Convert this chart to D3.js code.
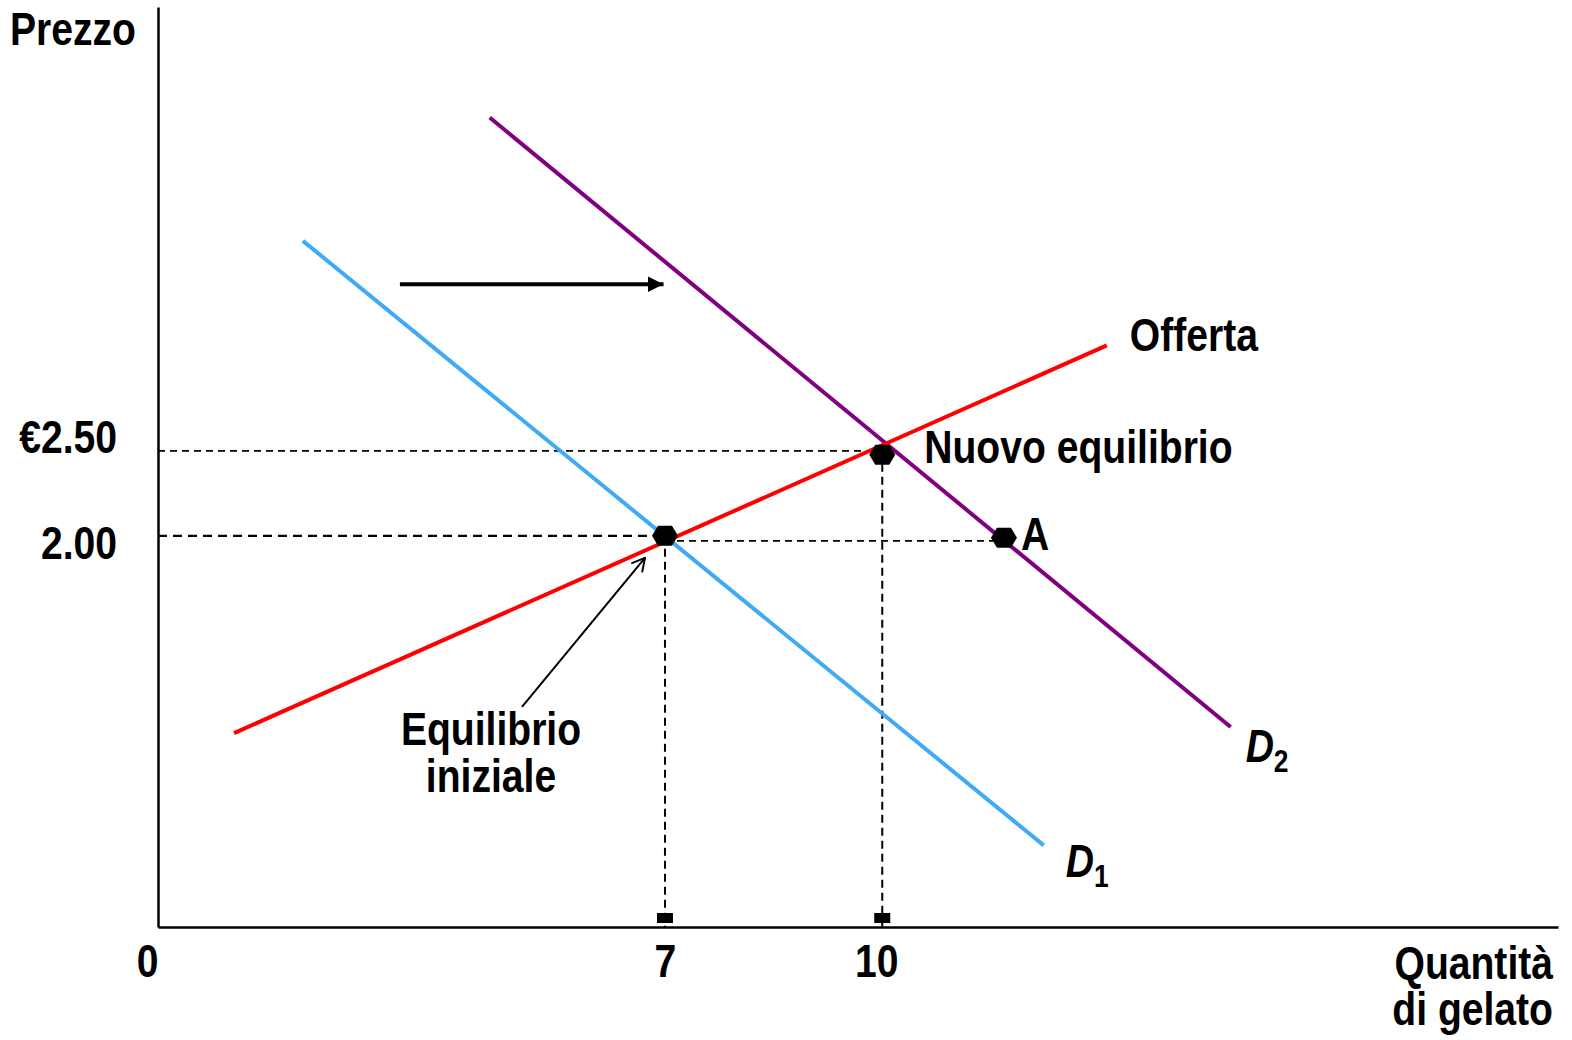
<!DOCTYPE html>
<html>
<head>
<meta charset="utf-8">
<script src="https://cdn.jsdelivr.net/npm/d3@7"></script>
<style>
  html, body { margin: 0; padding: 0; background: #fff; }
  svg { display: block; }
  text { font-family: "Liberation Sans", Arial, sans-serif; font-weight: bold; fill: #000; }
</style>
</head>
<body>
<svg id="chart" width="1572" height="1040"></svg>
<script>
// Ice-cream market: demand shifts right from D1 to D2, supply unchanged.
const quantityTicks = [0, 7, 10];
const quantityTickLabels = ["0", "7", "10"];
const priceTicks = [2.0, 2.5];
const priceTickLabels = ["2.00", "€2.50"];

const supplyLine = [{ q: 1.05, p: 0.84 }, { q: 13.1, p: 3.12 }];
const demand1Line = [{ q: 2.0, p: 3.735 }, { q: 12.23, p: 0.18 }];
const demand2Line = [{ q: 4.58, p: 4.46 }, { q: 14.81, p: 0.876 }];
const shiftArrow = [{ q: 3.34, p: 3.48 }, { q: 6.98, p: 3.48 }];

const initialEq = { q: 7, p: 2.0 };
const newEq = { q: 10, p: 2.5 };
const pointA = { q: 11.68, p: 2.0 };

const svg = d3.select("#chart");

const x = d3.scaleLinear().domain([0, 19.33]).range([158, 1558]);
const y = d3.scaleLinear().domain([-0.3, 5.11]).range([927, 7]);

const FONT = 46;
const NARROW = 0.85;   // horizontal squeeze for a narrow bold face

// place a horizontally condensed text with its anchor at (px, py)
function narrowText(parent, str, px, py, anchor = "start") {
  const g = parent.append("g").attr("transform", `translate(${px},${py}) scale(${NARROW},1)`);
  return g.append("text").attr("text-anchor", anchor).attr("font-size", FONT).text(str);
}

// defs: arrowheads
const defs = svg.append("defs");
defs.append("marker")
  .attr("id", "headFilled")
  .attr("viewBox", "0 0 16 16")
  .attr("refX", 16).attr("refY", 8)
  .attr("markerWidth", 16).attr("markerHeight", 16)
  .attr("markerUnits", "userSpaceOnUse")
  .attr("orient", "auto")
  .append("path").attr("d", "M0,0 L16,8 L0,16 Z").attr("fill", "#000");
defs.append("marker")
  .attr("id", "headOpen")
  .attr("viewBox", "0 0 16 16")
  .attr("refX", 15).attr("refY", 8)
  .attr("markerWidth", 16).attr("markerHeight", 16)
  .attr("markerUnits", "userSpaceOnUse")
  .attr("orient", "auto")
  .append("path").attr("d", "M2,1 L15,8 L2,15").attr("fill", "none")
  .attr("stroke", "#000").attr("stroke-width", 2);

// guide lines (dashed)
const guides = svg.append("g").attr("fill", "none").attr("stroke", "#000");
guides.append("line")
  .attr("x1", x(0)).attr("x2", x(newEq.q))
  .attr("y1", y(newEq.p)).attr("y2", y(newEq.p))
  .attr("stroke-width", 1.6).attr("stroke-dasharray", "7 5");
guides.append("line")
  .attr("x1", x(0)).attr("x2", x(initialEq.q))
  .attr("y1", y(initialEq.p)).attr("y2", y(initialEq.p))
  .attr("stroke-width", 2.4).attr("stroke-dasharray", "9 6");
guides.append("line")
  .attr("x1", x(initialEq.q)).attr("x2", x(pointA.q))
  .attr("y1", y(initialEq.p) + 5).attr("y2", y(pointA.p) + 5)
  .attr("stroke-width", 1.6).attr("stroke-dasharray", "7 5");
[initialEq, newEq].forEach(d => {
  guides.append("line")
    .attr("x1", x(d.q)).attr("x2", x(d.q))
    .attr("y1", y(d.p)).attr("y2", y.range()[0])
    .attr("stroke-width", 2).attr("stroke-dasharray", "8 5");
});

// axes
const xAxis = d3.axisBottom(x)
  .tickValues(quantityTicks)
  .tickFormat((d, i) => quantityTickLabels[i])
  .tickSize(0).tickSizeOuter(0);
const gx = svg.append("g").attr("transform", `translate(0,${y.range()[0]})`).call(xAxis);
gx.attr("font-family", null).attr("font-size", null);
gx.select(".domain").attr("stroke-width", 2.5).attr("stroke", "#000");
gx.selectAll("text")
  .attr("font-size", FONT).attr("dy", null).attr("y", 50)
  .attr("x", d => (d === 0 ? -11 : (d === 10 ? -6 : 0)) / NARROW)
  .attr("transform", `scale(${NARROW},1)`);

const yAxis = d3.axisLeft(y)
  .tickValues(priceTicks)
  .tickFormat((d, i) => priceTickLabels[i])
  .tickSize(0).tickSizeOuter(0);
const gy = svg.append("g").attr("transform", `translate(${x.range()[0]},0)`).call(yAxis);
gy.attr("font-family", null).attr("font-size", null);
gy.select(".domain").attr("stroke-width", 2.5).attr("stroke", "#000");
gy.selectAll("text")
  .attr("font-size", FONT)
  .attr("x", -41 / NARROW)
  .attr("dy", d => d === 2.5 ? 2 : 23)
  .attr("transform", `scale(${NARROW},1)`);

// quantity tick markers sitting on the axis
svg.append("g").selectAll("rect")
  .data(quantityTicks.filter(d => d > 0))
  .join("rect")
  .attr("x", d => x(d) - 8).attr("y", y.range()[0] - 14)
  .attr("width", 16).attr("height", 10)
  .attr("fill", "#000");

// curves
const line = d3.line().x(d => x(d.q)).y(d => y(d.p));
svg.append("path").datum(demand1Line).attr("d", line)
  .attr("stroke", "#3fabf5").attr("stroke-width", 4).attr("fill", "none");
svg.append("path").datum(demand2Line).attr("d", line)
  .attr("stroke", "#800080").attr("stroke-width", 4).attr("fill", "none");
svg.append("path").datum(supplyLine).attr("d", line)
  .attr("stroke", "#ff0000").attr("stroke-width", 4).attr("fill", "none");

// shift arrow
svg.append("path").datum(shiftArrow).attr("d", line)
  .attr("stroke", "#000").attr("stroke-width", 4).attr("fill", "none")
  .attr("marker-end", "url(#headFilled)");

// equilibrium markers
const hex = "M-13,0 L-7,-10 L7,-10 L13,0 L7,10 L-7,10 Z";
svg.append("g").selectAll("path")
  .data([initialEq, newEq, pointA])
  .join("path")
  .attr("d", hex)
  .attr("transform", (d, i) => `translate(${x(d.q)},${y(d.p) + (i === 1 ? 4 : i === 2 ? 2 : 0)})`)
  .attr("fill", "#000");

// labels
const labels = svg.append("g");
narrowText(labels, "Prezzo", 10, 45);

const sEnd = supplyLine[1];
narrowText(labels, "Offerta", x(sEnd.q) + 23, y(sEnd.p) + 6);
narrowText(labels, "Nuovo equilibrio", x(newEq.q) + 42, y(newEq.p) + 12);
narrowText(labels, "A", x(pointA.q) + 17, y(pointA.p) + 14);

function demandLabel(end, dx, dy, sub) {
  const t = narrowText(labels, "", x(end.q) + dx, y(end.p) + dy);
  t.append("tspan").attr("font-style", "italic").text("D");
  t.append("tspan").attr("font-size", 31).attr("dy", 10).text(sub);
}
demandLabel(demand1Line[1], 22, 32, "1");
demandLabel(demand2Line[1], 15, 35, "2");

// initial equilibrium callout
const ix = x(initialEq.q), iy = y(initialEq.p);
svg.append("line")
  .attr("x1", ix - 143).attr("y1", iy + 171)
  .attr("x2", ix - 20).attr("y2", iy + 22)
  .attr("stroke", "#000").attr("stroke-width", 2)
  .attr("marker-end", "url(#headOpen)");
narrowText(labels, "Equilibrio", ix - 174, iy + 209, "middle");
narrowText(labels, "iniziale", ix - 174, iy + 256, "middle");

// quantity axis title
narrowText(labels, "Quantità", 1553, 979, "end");
narrowText(labels, "di gelato", 1553, 1025, "end");
</script>
</body>
</html>
